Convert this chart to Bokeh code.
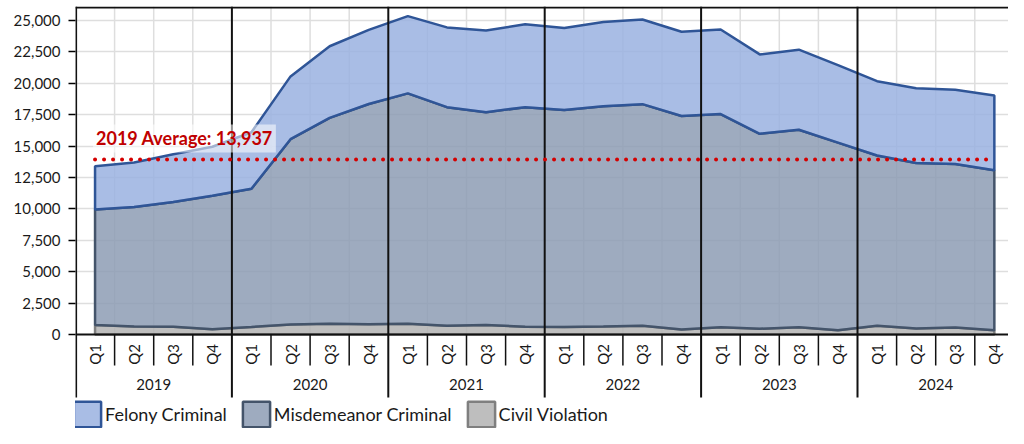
import numpy as np
from bokeh.plotting import figure
from bokeh.models import Range1d, FixedTicker, NumeralTickFormatter, Legend, LegendItem, Label
from bokeh.core.properties import value
from bokeh.embed import file_html
from bokeh.resources import INLINE

# ---------------- data ----------------
years = ["2019", "2020", "2021", "2022", "2023", "2024"]
quarters = ["Q1", "Q2", "Q3", "Q4"]

felony = [3450, 3550, 3800, 3900,
          4500, 5000, 5700, 5900,
          6150, 6350, 6500, 6600,
          6520, 6700, 6740, 6700,
          6730, 6320, 6380, 6170,
          5920, 5950, 5900, 5960]
misdemeanor = [9190, 9510, 9930, 10630,
               11000, 14750, 16400, 17530,
               18350, 17410, 16940, 17480,
               17280, 17540, 17640, 17000,
               16970, 15520, 15720, 14940,
               13560, 13180, 13020, 12740]
civil = [760, 640, 620, 420,
         600, 800, 850, 820,
         850, 690, 760, 620,
         600, 640, 700, 400,
         580, 460, 580, 340,
         690, 470, 560, 330]
y_ticks = [0, 2500, 5000, 7500, 10000, 12500, 15000, 17500, 20000, 22500, 25000]
avg_2019 = 13937

# ---------------- layout helpers ----------------
W, H = 1008, 428
LEFT = 75                   # frame left edge (px)
TOP = 6                     # frame top edge (px)
QW = 39.1                   # px per quarter
PX = 25000 / 314.0          # data units per pixel (vertical)
ZERO = 334                  # px of the zero line
y_end = (ZERO - TOP) * PX
y_start = -(H - ZERO) * PX
x_end = (W - LEFT) / QW


def vy(py):
    return (ZERO - py) * PX


n = len(years) * len(quarters)
xs = np.arange(n) + 0.5
civ_top = np.array(civil, float)
mis_top = civ_top + np.array(misdemeanor, float)
fel_top = mis_top + np.array(felony, float)

FONT = value("Lato")
TXT = "#1a1a1a"

p = figure(width=W, height=H, x_range=Range1d(0, x_end), y_range=Range1d(y_start, y_end),
           output_backend="svg", toolbar_location=None, x_axis_location=None,
           min_border_left=LEFT, min_border_right=0, min_border_top=TOP, min_border_bottom=0,
           outline_line_color=None, background_fill_color="white")

ax = p.yaxis[0]
ax.ticker = FixedTicker(ticks=y_ticks)
ax.formatter = NumeralTickFormatter(format="0,0")
ax.axis_line_color = None
ax.major_tick_in = 0
ax.major_tick_out = 7
ax.major_tick_line_color = "black"
ax.major_tick_line_width = 1.5
ax.minor_tick_line_color = None
ax.major_label_standoff = 8
ax.major_label_text_font = "Lato"
ax.major_label_text_font_size = "15px"
ax.major_label_text_color = TXT

p.ygrid.ticker = FixedTicker(ticks=y_ticks[1:])
p.ygrid.grid_line_color = "#dedede"
p.ygrid.grid_line_width = 1.5
p.xgrid.visible = False

# vertical light grid lines at quarter boundaries
qb = [i for i in range(1, n) if i % 4 != 0]
p.segment(x0=qb, y0=0, x1=qb, y1=y_end, line_color="#dedede", line_width=1.5)

# stacked areas
xx = np.r_[xs, xs[::-1]]
civ_r = p.patch(xx, np.r_[civ_top, np.zeros(n)], fill_color="#b3b3b3", fill_alpha=0.85,
                line_color="#7f7f7f", line_width=2.5)
mis_r = p.patch(xx, np.r_[mis_top, civ_top[::-1]], fill_color="#8d9cb4", fill_alpha=0.85,
                line_color="#44546a", line_width=2.5)
fel_r = p.patch(xx, np.r_[fel_top, mis_top[::-1]], fill_color="#9ab1e1", fill_alpha=0.85,
                line_color="#2f5597", line_width=2.5)

# frame lines
yb = [float(i) for i in range(0, n + 1, 4)]
yb[0] = 0.6 / QW
p.segment(x0=yb, y0=vy(397), x1=yb, y1=y_end, line_color="#111111", line_width=2)
p.segment(x0=[0], y0=[y_end - PX], x1=[x_end], y1=[y_end - PX], line_color="#111111", line_width=2)
p.segment(x0=[0], y0=[0], x1=[x_end], y1=[0], line_color="#111111", line_width=2)
p.segment(x0=qb, y0=0, x1=qb, y1=vy(365), line_color="#111111", line_width=1.5)

# category labels
p.text(x=xs, y=[vy(354)] * n, text=quarters * len(years), angle=np.pi / 2,
       text_align="center", text_baseline="middle", text_font=FONT,
       text_font_size="15px", text_color=TXT)
p.text(x=[4 * i + 2 for i in range(len(years))], y=[vy(384)] * len(years), text=years,
       text_align="center", text_baseline="middle", text_font=FONT,
       text_font_size="15px", text_color=TXT)

# 2019 average line + label
p.line(x=[xs[0], xs[-1]], y=[avg_2019, avg_2019], line_color="#d40000", line_width=4,
       line_dash="0 9", line_cap="round")
p.add_layout(Label(x=xs[0], y=avg_2019, x_units="data", y_units="data",
                   text=f"2019 Average: {avg_2019:,}", x_offset=-2, y_offset=21,
                   text_baseline="alphabetic", text_font="Lato", text_font_style="bold",
                   text_font_size="18px", text_color="#c00000",
                   background_fill_color="white", background_fill_alpha=0.55, padding=3))

legend = Legend(items=[LegendItem(label="Felony Criminal", renderers=[fel_r]),
                       LegendItem(label="Misdemeanor Criminal", renderers=[mis_r]),
                       LegendItem(label="Civil Violation", renderers=[civ_r])],
                orientation="horizontal", location=(-5, -2), glyph_width=34, glyph_height=32,
                label_standoff=1, spacing=12, padding=0, margin=0,
                border_line_color=None, background_fill_alpha=0,
                label_text_font="Lato", label_text_font_size="18px", label_text_color=TXT)
p.add_layout(legend)

open("out.html", "w").write(file_html(p, INLINE))
